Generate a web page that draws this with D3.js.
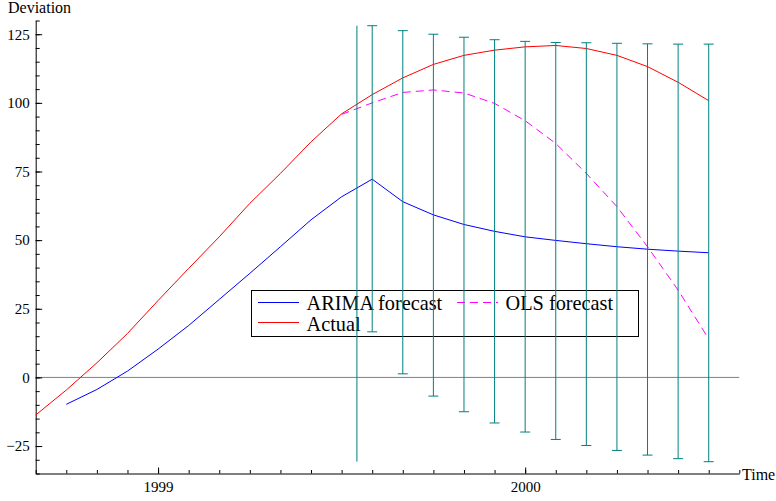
<!DOCTYPE html>
<html>
<head>
<meta charset="utf-8">
<script src="https://cdn.jsdelivr.net/npm/d3@7"></script>
<style>
  body { margin: 0; background: #fff; }
  svg text { font-family: "Liberation Serif", "Times New Roman", Times, "DejaVu Serif", serif !important; fill: #000; }
</style>
</head>
<body>
<svg id="chart" width="776" height="501"></svg>
<script>
// monthly periods
const actualPeriods = ["1998-09","1998-10","1998-11","1998-12","1999-01","1999-02","1999-03","1999-04",
  "1999-05","1999-06","1999-07","1999-08","1999-09","1999-10","1999-11","1999-12","2000-01",
  "2000-02","2000-03","2000-04","2000-05","2000-06","2000-07"];
const actualValues = [-13.7, -4.6, 5.3, 16.0, 28.0, 39.7, 51.2, 63.4, 74.3, 85.8, 96.0, 103.0,
  109.1, 114.0, 117.3, 119.2, 120.4, 120.9, 119.8, 117.3, 113.2, 107.5, 100.8];

const arimaPeriods = actualPeriods.slice(1);
const arimaValues = [-9.8, -4.4, 2.3, 10.3, 18.9, 28.4, 37.9, 47.6, 57.4, 65.8, 72.2, 64.0,
  59.2, 55.7, 53.2, 51.2, 49.9, 48.7, 47.6, 46.7, 46.0, 45.4];

const olsPeriods = actualPeriods.slice(10);
const olsValues = [95.8, 100.0, 103.8, 104.7, 103.6, 99.8, 93.5, 85.2, 74.3, 62.2, 47.6, 31.8, 14.0];

// ARIMA error bars
const barPeriods = actualPeriods.slice(11);
const barUpper = [128.1, 126.3, 125.0, 123.9, 123.0, 122.4, 122.0, 121.9, 121.7, 121.5, 121.4, 121.4];
const barLower = [16.6, 1.3, -6.8, -12.5, -16.6, -19.9, -22.6, -24.8, -26.6, -28.3, -29.6, -30.7];

const yearTicks = [1999, 2000];

const toYear = p => { const [y, m] = p.split("-").map(Number); return y + (m - 1) / 12; };

const svg = d3.select("#chart");
const x = d3.scaleLinear().domain([1998 + 8/12, 2000 + 7/12]).range([35.7, 739.3]);
const y = d3.scaleLinear().domain([-35, 130]).range([473.5, 20.5]);

// zero line
svg.append("line")
  .attr("x1", x.range()[0]).attr("x2", x.range()[1])
  .attr("y1", y(0)).attr("y2", y(0))
  .attr("stroke", "#808080").attr("stroke-width", 1);

// axes
const monthTicks = d3.range(x.domain()[0], x.domain()[1] + 1e-6, 1/12);
svg.append("g")
  .attr("transform", `translate(0,${y.range()[0]})`)
  .call(d3.axisBottom(x).tickValues(monthTicks).tickSize(-3.5).tickSizeOuter(0).tickFormat(""))
  .call(g => g.selectAll("path,line").attr("stroke", "#000"));
svg.append("g")
  .attr("transform", `translate(0,${y.range()[0]})`)
  .call(d3.axisBottom(x).tickValues(yearTicks).tickSize(-6).tickSizeOuter(0).tickPadding(7.6).tickFormat(d3.format("d")))
  .call(g => g.select(".domain").remove())
  .call(g => g.selectAll("line").attr("stroke", "#000"))
  .call(g => g.selectAll("text").style("font-size", "15px"));

svg.append("g")
  .attr("transform", `translate(${x.range()[0]},0)`)
  .call(d3.axisLeft(y).tickValues(d3.range(-35, 131, 5)).tickSize(-4).tickSizeOuter(0).tickFormat(""))
  .call(g => g.selectAll("path,line").attr("stroke", "#000"));
svg.append("g")
  .attr("transform", `translate(${x.range()[0]},0)`)
  .call(d3.axisLeft(y).tickValues([-25, 0, 25, 50, 75, 100, 125]).tickSize(-6.5).tickSizeOuter(0).tickPadding(6))
  .call(g => g.select(".domain").remove())
  .call(g => g.selectAll("line").attr("stroke", "#000"))
  .call(g => g.selectAll("text").style("font-size", "15px"));

svg.append("text").attr("x", 8).attr("y", 13).style("font-size", "16px").text("Deviation");
svg.append("text").attr("x", 742).attr("y", 480).style("font-size", "16px").text("Time");

// legend
const lg = svg.append("g");
lg.append("rect").attr("x", 251.5).attr("y", 290.5).attr("width", 387).attr("height", 46)
  .attr("fill", "none").attr("stroke", "#000");
const legendItems = [
  {label: "ARIMA forecast", color: "#0000ff", dash: null, lx: 258, tx: 306.5, ly: 302.5, ty: 310},
  {label: "OLS forecast", color: "#ff00ff", dash: "8,5", lx: 457, tx: 505.5, ly: 302.5, ty: 310},
  {label: "Actual", color: "#ff0000", dash: null, lx: 258, tx: 306.5, ly: 322.5, ty: 330.5}
];
legendItems.forEach(d => {
  lg.append("line").attr("x1", d.lx).attr("x2", d.lx + 41).attr("y1", d.ly).attr("y2", d.ly)
    .attr("stroke", d.color).attr("stroke-width", 1).attr("stroke-dasharray", d.dash);
  lg.append("text").attr("x", d.tx).attr("y", d.ty).style("font-size", "20.3px").text(d.label);
});

// series
const line = d3.line().x(d => x(d[0])).y(d => y(d[1]));
const pairs = (ps, vs) => ps.map((p, i) => [toYear(p), vs[i]]);

svg.append("path").datum(pairs(actualPeriods, actualValues))
  .attr("d", line).attr("fill", "none").attr("stroke", "#ff0000").attr("stroke-width", 1);
svg.append("path").datum(pairs(arimaPeriods, arimaValues))
  .attr("d", line).attr("fill", "none").attr("stroke", "#0000ff").attr("stroke-width", 1);
svg.append("path").datum(pairs(olsPeriods, olsValues))
  .attr("d", line).attr("fill", "none").attr("stroke", "#ff00ff").attr("stroke-width", 1)
  .attr("stroke-dasharray", "8,5");

// forecast origin marker
const originX = x((toYear(olsPeriods[0]) + toYear(barPeriods[0])) / 2);
svg.append("line")
  .attr("x1", originX).attr("x2", originX)
  .attr("y1", y(d3.max(barUpper))).attr("y2", y(d3.min(barLower)))
  .attr("stroke", "#008080").attr("stroke-width", 1);

// error bars
const bars = svg.append("g").attr("stroke", "#008080").attr("stroke-width", 1);
barPeriods.forEach((p, i) => {
  const bx = x(toYear(p));
  bars.append("line").attr("x1", bx).attr("x2", bx).attr("y1", y(barUpper[i])).attr("y2", y(barLower[i]));
  bars.append("line").attr("x1", bx - 5).attr("x2", bx + 5).attr("y1", y(barUpper[i])).attr("y2", y(barUpper[i]));
  bars.append("line").attr("x1", bx - 5).attr("x2", bx + 5).attr("y1", y(barLower[i])).attr("y2", y(barLower[i]));
});
</script>
</body>
</html>
